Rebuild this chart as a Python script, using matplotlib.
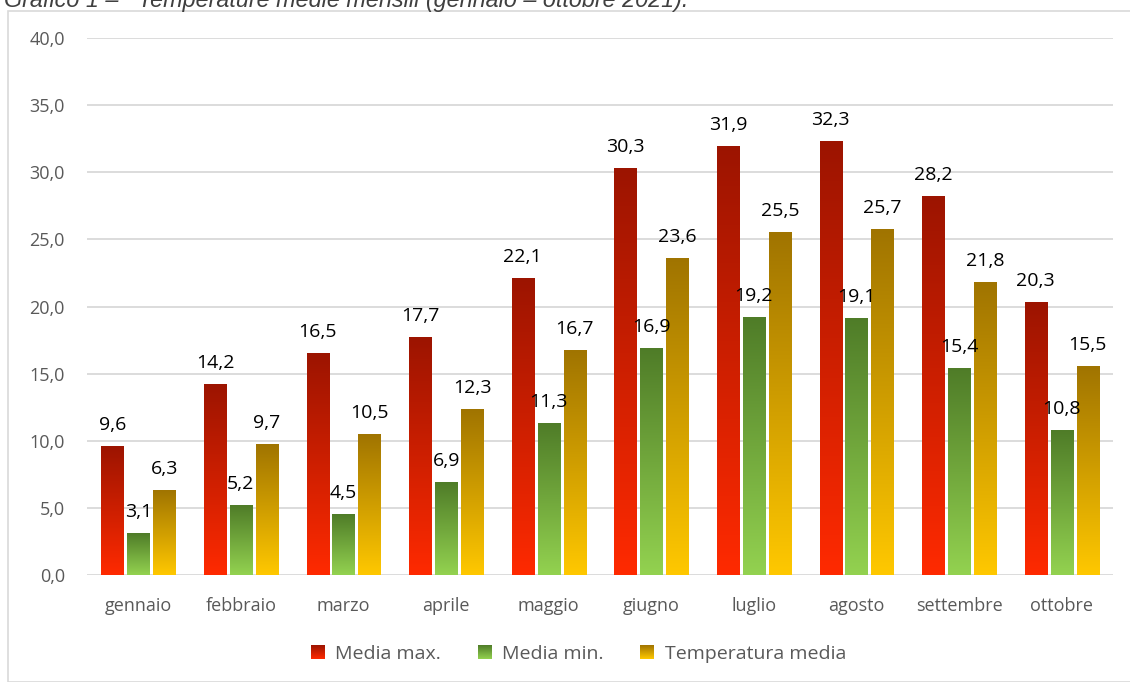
import numpy as np
import matplotlib
matplotlib.use("Agg")
import matplotlib.pyplot as plt
from matplotlib.colors import LinearSegmentedColormap
from matplotlib.patches import Rectangle
from matplotlib.legend_handler import HandlerBase
from matplotlib.image import BboxImage
from matplotlib.transforms import Bbox, TransformedBbox

months = ["gennaio", "febbraio", "marzo", "aprile", "maggio", "giugno",
          "luglio", "agosto", "settembre", "ottobre"]
media_max = [9.6, 14.2, 16.5, 17.7, 22.1, 30.3, 31.9, 32.3, 28.2, 20.3]
media_min = [3.1, 5.2, 4.5, 6.9, 11.3, 16.9, 19.2, 19.1, 15.4, 10.8]
temp_media = [6.3, 9.7, 10.5, 12.3, 16.7, 23.6, 25.5, 25.7, 21.8, 15.5]
series_names = ["Media max.", "Media min.", "Temperatura media"]
yticks = [0, 5, 10, 15, 20, 25, 30, 35, 40]

# gradient (top colour, bottom colour)
grads = [("#9c1400", "#ff2a00"), ("#4f7c28", "#93d250"), ("#a07400", "#ffc800")]

plt.rcParams['font.family'] = ['Open Sans', 'DejaVu Sans']

W, H = 1130, 682
fig = plt.figure(figsize=(W / 100, H / 100), dpi=100)

# chart border
fig.patches.append(Rectangle((8 / W, 0), 1.2, 1 - 11 / H, transform=fig.transFigure,
                             fill=False, edgecolor="#d9d9d9", lw=1.2, clip_on=False))

# title (partly clipped at top, as in the reference)
fig.text(4 / W, 1 - 7 / H, "Grafico 1 –",
         family="Liberation Sans", style="italic", fontsize=16.8, color="#404040",
         va="baseline", ha="left")
fig.text(138 / W, 1 - 7 / H, "Temperature medie mensili (gennaio – ottobre 2021).",
         family="Liberation Sans", style="italic", fontsize=16.8, color="#404040",
         va="baseline", ha="left")

ax = fig.add_axes([87 / W, 1 - 575 / H, (1113 - 87) / W, (575 - 38) / H])
ax.set_xlim(-0.5, len(months) - 0.5)
ax.set_ylim(0, 40)
for s in ax.spines.values():
    s.set_visible(False)
ax.set_yticks(yticks)
ax.set_yticklabels([f"{v:.1f}".replace(".", ",") for v in yticks], color="#595959", fontsize=13)
ax.yaxis.grid(True, color="#d9d9d9", lw=1.3)
ax.set_axisbelow(True)
ax.tick_params(axis="y", length=0, pad=16)
ax.tick_params(axis="x", length=0, pad=16)
x = np.arange(len(months))
ax.set_xticks(x)
ax.set_xticklabels(months, color="#595959", fontsize=13)

bw = 0.215
step = 0.253
cmaps = [LinearSegmentedColormap.from_list(f"g{i}", [b, t]) for i, (t, b) in enumerate(grads)]
grad_img = np.linspace(0, 1, 256).reshape(-1, 1)

for i, vals in enumerate([media_max, media_min, temp_media]):
    pos = x + (i - 1) * step
    bars = ax.bar(pos, vals, width=bw, color="none", edgecolor="none", zorder=2)
    for b, v in zip(bars, vals):
        x0, y0 = b.get_x(), b.get_y()
        w, h = b.get_width(), b.get_height()
        ax.imshow(grad_img, cmap=cmaps[i], origin="lower", aspect="auto",
                  extent=(x0, x0 + w, y0, y0 + h), zorder=2, interpolation="bilinear")
        ax.annotate(f"{v:.1f}".replace(".", ","), (x0 + w / 2, v), xytext=(0, 9),
                    textcoords="offset points", ha="center", va="bottom",
                    fontsize=14, color="#000000", zorder=3)

ax.set_xlim(-0.5, len(months) - 0.5)
ax.set_ylim(0, 40)


class HandlerGradient(HandlerBase):
    def __init__(self, cmap):
        super().__init__()
        self.cmap = cmap

    def create_artists(self, legend, orig_handle, xdescent, ydescent, width, height, fontsize, trans):
        s = min(width, height)
        x0 = -xdescent + (width - s) / 2
        y0 = -ydescent + (height - s) / 2
        bb = TransformedBbox(Bbox.from_bounds(x0, y0, s, s), trans)
        im = BboxImage(bb, cmap=self.cmap, interpolation="bilinear", origin="lower")
        im.set_data(grad_img)
        return [im]


handles = [Rectangle((0, 0), 1, 1) for _ in range(3)]
hmap = {h: HandlerGradient(c) for h, c in zip(handles, cmaps)}
fig.legend(handles, series_names, handler_map=hmap, loc="center",
           bbox_to_anchor=(578.5 / W, 1 - 654 / H), ncol=3, frameon=False,
           fontsize=14, handlelength=0.67, handleheight=0.67, columnspacing=1.9,
           handletextpad=0.57, labelcolor="#595959", borderpad=0, borderaxespad=0)

fig.savefig("out.png", dpi=100)
